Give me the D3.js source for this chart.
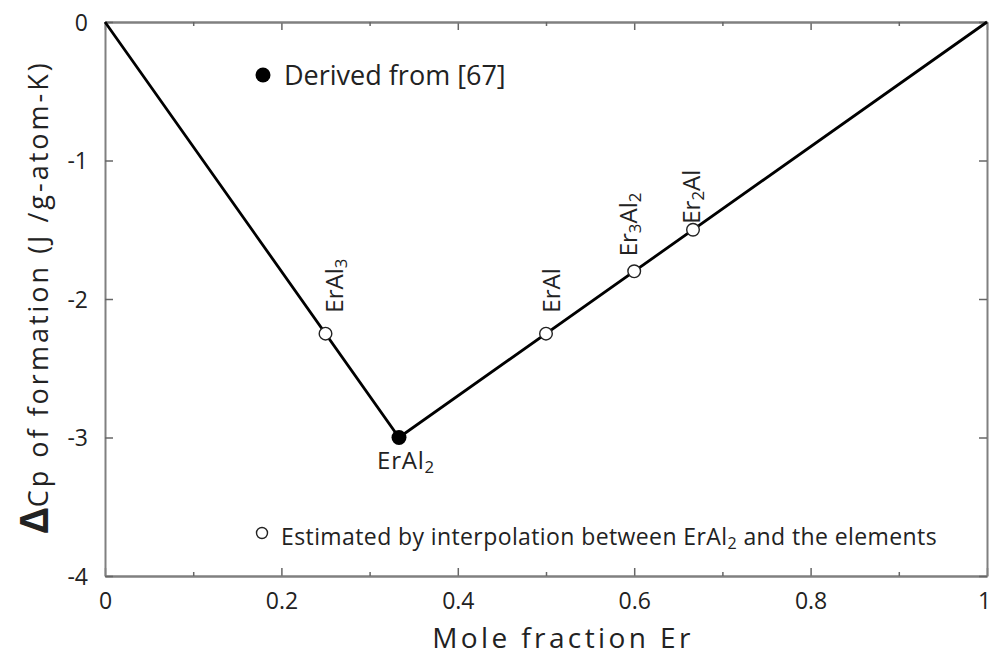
<!DOCTYPE html>
<html><head><meta charset="utf-8">
<script src="https://cdn.jsdelivr.net/npm/d3@7"></script>
<style>
body{margin:0;background:#fff;}
svg{display:block;font-family:"Open Sans",sans-serif;}
</style></head>
<body><svg id="c" width="992" height="657"></svg>
<script>
// Data
const lineX = [0, 1/3, 1];
const lineY = [0, -3, 0];
const compounds = ["ErAl3", "ErAl", "Er3Al2", "Er2Al"];
const compX = [0.25, 0.5, 0.6, 2/3];
const compY = [-2.25, -2.25, -1.8, -1.5];
const derivedName = "ErAl2";
const derivedX = [1/3];
const derivedY = [-3];
const xTicks = [0, 0.2, 0.4, 0.6, 0.8, 1];
const xMinor = [0.1, 0.3, 0.5, 0.7, 0.9];
const yTicks = [0, -1, -2, -3, -4];

(function () {
const svg = d3.select("#c");
const x = d3.scaleLinear().domain([0, 1]).range([105, 987]);
const y = d3.scaleLinear().domain([-4, 0]).range([576, 22]);
const axisCol = "#808080";
const txt = "#222";

const g = svg.append("g");
const bottomAx = g.append("g").attr("transform", `translate(0,${y(-4)})`)
  .call(d3.axisBottom(x).tickValues(xTicks).tickSizeInner(-8).tickSizeOuter(0).tickPadding(17).tickFormat(d => d === 0 || d === 1 ? d3.format("d")(d) : d3.format(".1f")(d)));
g.append("g").attr("transform", `translate(0,${y(-4)})`)
  .call(d3.axisBottom(x).tickValues(xMinor).tickSizeInner(-4).tickSizeOuter(0).tickFormat(""));
g.append("g").attr("transform", `translate(0,${y(0)})`)
  .call(d3.axisTop(x).tickValues(xTicks).tickSizeInner(-8).tickSizeOuter(0).tickFormat(""));
g.append("g").attr("transform", `translate(0,${y(0)})`)
  .call(d3.axisTop(x).tickValues(xMinor).tickSizeInner(-4).tickSizeOuter(0).tickFormat(""));
const leftAx = g.append("g").attr("transform", `translate(${x(0)},0)`)
  .call(d3.axisLeft(y).tickValues(yTicks).tickSizeInner(-8).tickSizeOuter(0).tickPadding(17).tickFormat(d => String(d)));
g.append("g").attr("transform", `translate(${x(1)},0)`)
  .call(d3.axisRight(y).tickValues(yTicks).tickSizeInner(-8).tickSizeOuter(0).tickFormat(""));

g.selectAll(".domain").attr("stroke", axisCol).attr("stroke-width", 2);
g.selectAll(".tick line").attr("stroke", "#666").attr("stroke-width", 1.5);
g.selectAll(".tick text").attr("font-family", "Open Sans, sans-serif").attr("font-size", 23).attr("fill", txt);
leftAx.selectAll(".tick text").attr("dy", "0.35em");
bottomAx.selectAll(".tick text").filter(d => d === 1).attr("dx", -3);

const pts = lineX.map((d, i) => [x(d), y(lineY[i])]);
svg.append("path").attr("d", d3.line()(pts)).attr("fill", "none").attr("stroke", "#000").attr("stroke-width", 2.8);

svg.selectAll(".oc").data(compX).join("circle")
  .attr("cx", d => x(d)).attr("cy", (d, i) => y(compY[i])).attr("r", 6.3)
  .attr("fill", "#fff").attr("stroke", "#222").attr("stroke-width", 1.4);

svg.selectAll(".fc").data(derivedX).join("circle")
  .attr("cx", d => x(d)).attr("cy", (d, i) => y(derivedY[i])).attr("r", 7.5).attr("fill", "#000");

function chem(sel, name) {
  const parts = name.match(/[A-Z][a-z]?|\d+/g);
  parts.forEach(p => {
    if (/\d/.test(p)) sel.append("tspan").attr("font-size", "0.7em").attr("baseline-shift", "-25%").text(p);
    else sel.append("tspan").text(p);
  });
}
const labDx = [17, 14, 3, 7];
const labDy = [-21, -21, -15, -6];
compounds.forEach((c, i) => {
  const cx = x(compX[i]) + labDx[i], cy = y(compY[i]) + labDy[i];
  const t = svg.append("text").attr("transform", `translate(${cx},${cy}) rotate(-90)`)
    .attr("font-size", 24).attr("fill", txt);
  chem(t, c);
});
const tE = svg.append("text").attr("x", x(derivedX[0]) + 7).attr("y", y(derivedY[0]) + 31)
  .attr("text-anchor", "middle").attr("font-size", 24).attr("letter-spacing", 0.8).attr("fill", txt);
chem(tE, derivedName);

svg.append("circle").attr("cx", 263).attr("cy", 75).attr("r", 7.5).attr("fill", "#000");
svg.append("text").attr("x", 284).attr("y", 85).attr("font-size", 27).attr("fill", txt).text("Derived from [67]");
svg.append("circle").attr("cx", 262).attr("cy", 533).attr("r", 5.5).attr("fill", "#fff").attr("stroke", "#222").attr("stroke-width", 1.4);
const lt = svg.append("text").attr("x", 281).attr("y", 545).attr("font-size", 23).attr("letter-spacing", 0.4).attr("fill", txt);
lt.append("tspan").text("Estimated by interpolation between ");
chem(lt, "ErAl2");
lt.append("tspan").text(" and the elements");

svg.append("text").attr("x", 563).attr("y", 648).attr("text-anchor", "middle")
  .attr("font-size", 28).attr("letter-spacing", 3.4).attr("fill", txt).text("Mole fraction Er");
const yl = svg.append("text").attr("transform", `translate(48,297) rotate(-90)`).attr("text-anchor", "middle")
  .attr("font-size", 27).attr("letter-spacing", 3).attr("fill", txt);
yl.append("tspan").attr("font-weight", "bold").attr("font-size", 40).attr("letter-spacing", 0).text("Δ");
yl.append("tspan").text("Cp of formation (J /g-atom-K)");
})();
</script></body></html>
